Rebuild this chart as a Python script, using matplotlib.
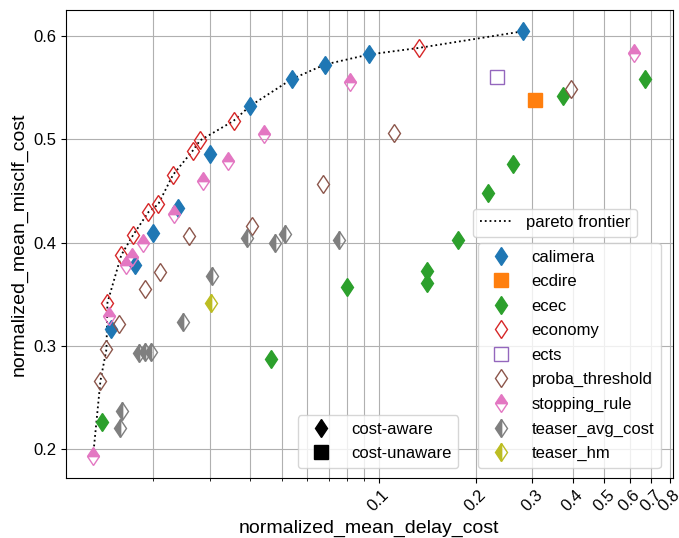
import numpy as np
import matplotlib
matplotlib.use('Agg')
import matplotlib.pyplot as plt
from matplotlib.lines import Line2D
from matplotlib.ticker import NullFormatter, LogLocator

plt.rcParams['font.family'] = ['Liberation Sans', 'DejaVu Sans']

# delay cost (x) and misclassification cost (y) per method
calimera_x = [0.2806, 0.0933, 0.0681, 0.0537, 0.0398, 0.0299, 0.0238, 0.0199, 0.0175, 0.0148]
calimera_y = [0.6048, 0.5823, 0.5726, 0.5584, 0.5322, 0.4858, 0.4340, 0.4095, 0.3783, 0.3161]
ecdire_x = [0.305]
ecdire_y = [0.538]
ecec_x = [0.671, 0.372, 0.261, 0.2185, 0.1763, 0.1416, 0.1416, 0.0797, 0.0464, 0.0139]
ecec_y = [0.5581, 0.5419, 0.4758, 0.4483, 0.4025, 0.3728, 0.3606, 0.3573, 0.2876, 0.2266]
economy_x = [0.1334, 0.03545, 0.0279, 0.0265, 0.0230, 0.0207, 0.0193, 0.0173, 0.0159, 0.0144]
economy_y = [0.5887, 0.5180, 0.4990, 0.4892, 0.4657, 0.4372, 0.4296, 0.4074, 0.3880, 0.3418]
ects_x = [0.233]
ects_y = [0.5606]
proba_x = [0.394, 0.1113, 0.0671, 0.0404, 0.0258, 0.0209, 0.0189, 0.0156, 0.0143, 0.0137]
proba_y = [0.5484, 0.5058, 0.4567, 0.4161, 0.4061, 0.3711, 0.3549, 0.3207, 0.2967, 0.2663]
stopping_x = [0.619, 0.0817, 0.0442, 0.0340, 0.0285, 0.0231, 0.0185, 0.0172, 0.0165, 0.0146, 0.0130]
stopping_y = [0.5833, 0.5558, 0.5051, 0.4793, 0.4593, 0.4277, 0.3993, 0.3864, 0.3783, 0.3289, 0.1934]
teaser_avg_x = [0.0751, 0.0513, 0.0478, 0.0391, 0.0305, 0.0247, 0.0196, 0.0188, 0.0180, 0.0160, 0.0158]
teaser_avg_y = [0.4025, 0.4083, 0.3993, 0.4049, 0.3677, 0.3234, 0.2944, 0.2944, 0.2928, 0.2373, 0.2202]
teaser_hm_x = [0.0302]
teaser_hm_y = [0.3412]

methods = ['calimera', 'ecdire', 'ecec', 'economy', 'ects', 'proba_threshold',
           'stopping_rule', 'teaser_avg_cost', 'teaser_hm']
xs = [calimera_x, ecdire_x, ecec_x, economy_x, ects_x, proba_x, stopping_x, teaser_avg_x, teaser_hm_x]
ys = [calimera_y, ecdire_y, ecec_y, economy_y, ects_y, proba_y, stopping_y, teaser_avg_y, teaser_hm_y]
markers = ['d', 's', 'd', 'd', 's', 'd', 'd', 'd', 'd']
fills = ['full', 'full', 'full', 'none', 'none', 'none', 'top', 'left', 'left']

xtick_vals = [0.1, 0.2, 0.3, 0.4, 0.5, 0.6, 0.7, 0.8]


def pareto_front(x, y):
    order = np.argsort(x)
    px, py = [], []
    best = -np.inf
    for i in order:
        if y[i] > best:
            best = y[i]
            px.append(x[i])
            py.append(y[i])
    return px, py


all_x = np.concatenate([np.array(v) for v in xs])
all_y = np.concatenate([np.array(v) for v in ys])
front_x, front_y = pareto_front(all_x, all_y)

fig, ax = plt.subplots(figsize=(6.79, 5.38), dpi=100)
fig.subplots_adjust(left=0.097, right=0.991, top=0.981, bottom=0.112)

line, = ax.plot(front_x, front_y, ':', color='black', lw=1.3, zorder=1, label='pareto frontier')

handles = []
for i, name in enumerate(methods):
    h, = ax.plot(xs[i], ys[i], linestyle='none', marker=markers[i], ms=9.5,
                 color='C%d' % i, fillstyle=fills[i], label=name, zorder=3)
    handles.append(h)

ax.set_xscale('log')
ax.set_xlim(0.0107, 0.818)
ax.set_ylim(0.1722, 0.6252)
ax.set_xticks(xtick_vals)
ax.set_xticklabels([str(v) for v in xtick_vals], rotation=45, fontsize=12)
ax.xaxis.set_minor_locator(LogLocator(subs=np.arange(2, 10)))
ax.xaxis.set_minor_formatter(NullFormatter())
ax.set_yticks([0.2, 0.3, 0.4, 0.5, 0.6])
ax.tick_params(axis='y', labelsize=12)
ax.grid(which='both')
ax.set_axisbelow(True)

ax.set_xlabel('normalized_mean_delay_cost', fontsize=14)
ax.set_ylabel('normalized_mean_misclf_cost', fontsize=14)

leg_methods = ax.legend(handles=handles, loc='lower right', bbox_to_anchor=(0.980, 0.021),
                        borderaxespad=0, fontsize=12, labelspacing=0.57)
ax.add_artist(leg_methods)
leg_front = ax.legend(handles=[line], loc='lower left', bbox_to_anchor=(0.6705, 0.515),
                      borderaxespad=0, fontsize=12)
ax.add_artist(leg_front)
cost_handles = [Line2D([], [], linestyle='none', marker='d', ms=9.5, color='black', label='cost-aware'),
                Line2D([], [], linestyle='none', marker='s', ms=9.5, color='black', label='cost-unaware')]
ax.legend(handles=cost_handles, loc='lower right', bbox_to_anchor=(0.646, 0.021),
          borderaxespad=0, fontsize=12, labelspacing=0.55)

fig.savefig('out.png', dpi=100)
